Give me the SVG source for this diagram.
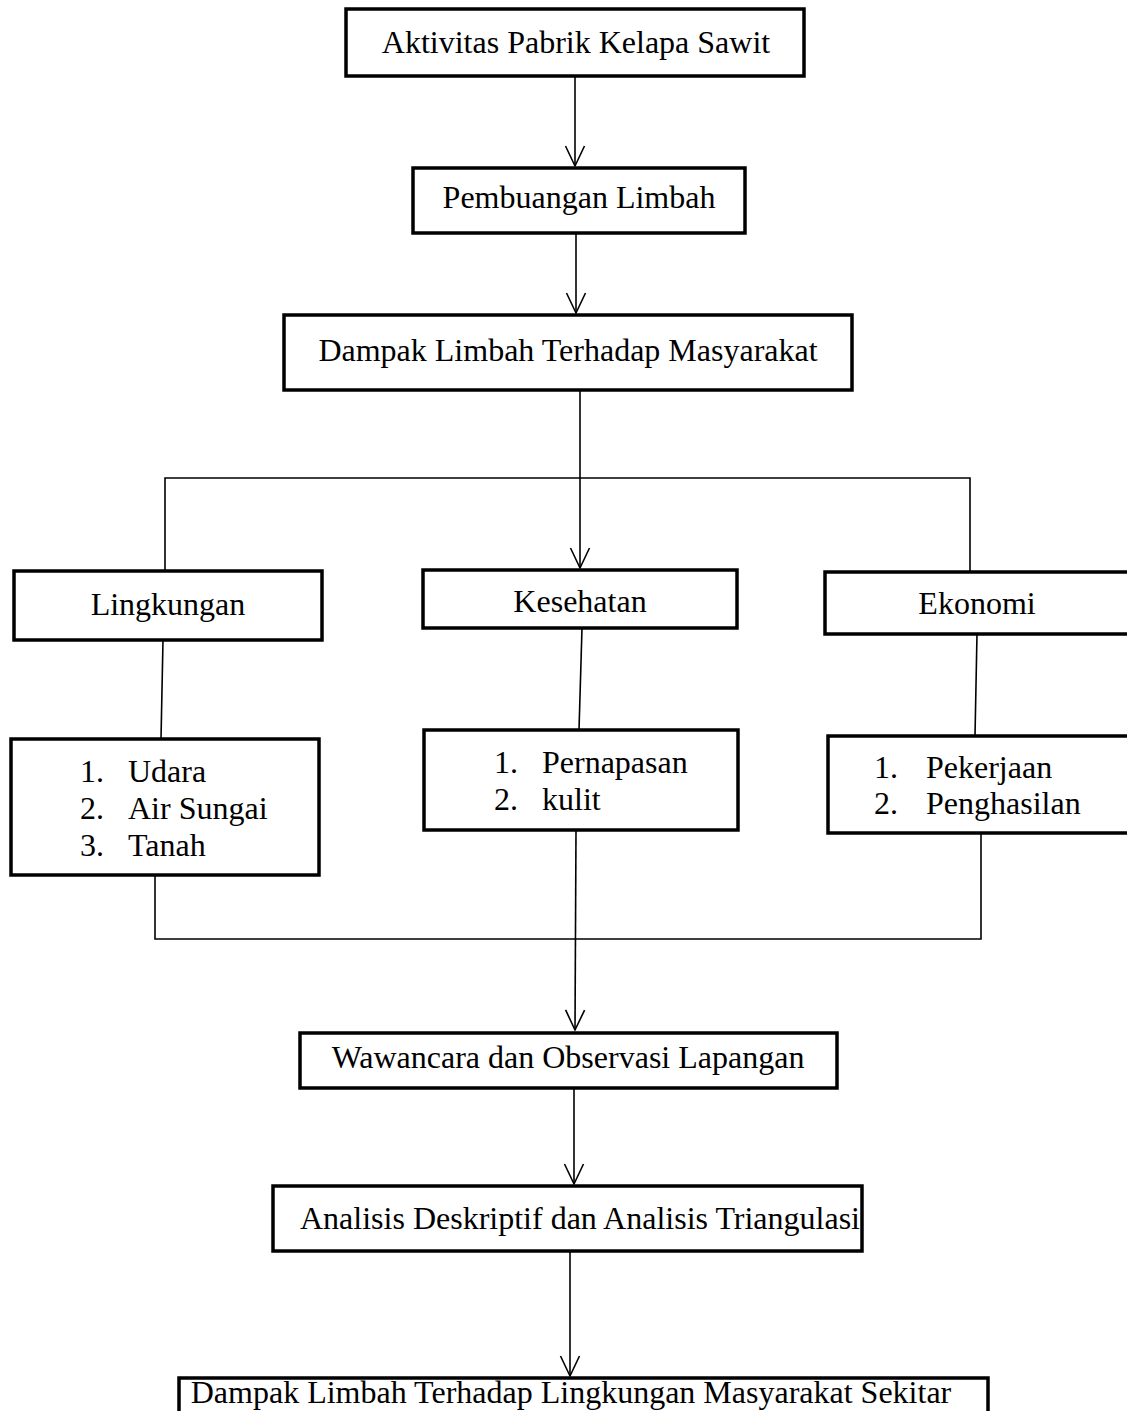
<svg xmlns="http://www.w3.org/2000/svg" width="1127" height="1411" viewBox="0 0 1127 1411">
<style>
.box{fill:#fff;stroke:#000;stroke-width:3.5}
.t{font-family:"Liberation Serif","Times New Roman",serif;font-size:32px;fill:#000}
.c{text-anchor:middle}
.ln{fill:none;stroke:#000;stroke-width:1.6}
</style>
<defs>
<marker id="v" markerWidth="24" markerHeight="24" refX="22" refY="12" orient="auto" markerUnits="userSpaceOnUse" viewBox="0 0 24 24">
<path d="M2 2.5 L22 12 L2 21.5" fill="none" stroke="#000" stroke-width="1.6"/>
</marker>
</defs>
<g id="connectors">
<path class="ln" d="M575 76 V166" marker-end="url(#v)"/>
<path class="ln" d="M576 233 V313" marker-end="url(#v)"/>
<path class="ln" d="M580 390 V568" marker-end="url(#v)"/>
<path class="ln" d="M165 570 V478 H970 V571"/>
<path class="ln" d="M163 640 L161 739"/>
<path class="ln" d="M582 628 L579 730"/>
<path class="ln" d="M977 634 L975 736"/>
<path class="ln" d="M155 875 V939 H981 V833"/>
<path class="ln" d="M576 830 L575 1030" marker-end="url(#v)"/>
<path class="ln" d="M574 1088 V1184" marker-end="url(#v)"/>
<path class="ln" d="M570 1251 V1376" marker-end="url(#v)"/>
</g>
<g id="n1"><rect class="box" x="346" y="9" width="458" height="67"/><text class="t c" x="576" y="53">Aktivitas Pabrik Kelapa Sawit</text></g>
<g id="n2"><rect class="box" x="413" y="168" width="332" height="65"/><text class="t c" x="579" y="208">Pembuangan Limbah</text></g>
<g id="n3"><rect class="box" x="284" y="315" width="568" height="75"/><text class="t c" x="568" y="361">Dampak Limbah Terhadap Masyarakat</text></g>
<g id="n4"><rect class="box" x="14" y="571" width="308" height="69"/><text class="t c" x="168" y="615">Lingkungan</text></g>
<g id="n5"><rect class="box" x="423" y="570" width="314" height="58"/><text class="t c" x="580" y="612">Kesehatan</text></g>
<g id="n6"><rect class="box" x="825" y="572" width="305" height="62"/><text class="t c" x="977" y="614">Ekonomi</text></g>
<g id="n7"><rect class="box" x="11" y="739" width="308" height="136"/>
<text class="t" x="80" y="782">1.</text><text class="t" x="128" y="782">Udara</text>
<text class="t" x="80" y="819">2.</text><text class="t" x="128" y="819">Air Sungai</text>
<text class="t" x="80" y="856">3.</text><text class="t" x="128" y="856">Tanah</text></g>
<g id="n8"><rect class="box" x="424" y="730" width="314" height="100"/>
<text class="t" x="494" y="773">1.</text><text class="t" x="542" y="773">Pernapasan</text>
<text class="t" x="494" y="810">2.</text><text class="t" x="542" y="810">kulit</text></g>
<g id="n9"><rect class="box" x="828" y="736" width="305" height="97"/>
<text class="t" x="874" y="778">1.</text><text class="t" x="926" y="778">Pekerjaan</text>
<text class="t" x="874" y="814">2.</text><text class="t" x="926" y="814">Penghasilan</text></g>
<g id="n10"><rect class="box" x="300" y="1033" width="537" height="55"/><text class="t c" x="568" y="1068">Wawancara dan Observasi Lapangan</text></g>
<g id="n11"><rect class="box" x="273" y="1186" width="589" height="65"/><text class="t c" x="580" y="1229">Analisis Deskriptif dan Analisis Triangulasi</text></g>
<g id="n12"><rect class="box" x="179" y="1378" width="809" height="50"/><text class="t c" x="571" y="1403">Dampak Limbah Terhadap Lingkungan Masyarakat Sekitar</text></g>
</svg>
